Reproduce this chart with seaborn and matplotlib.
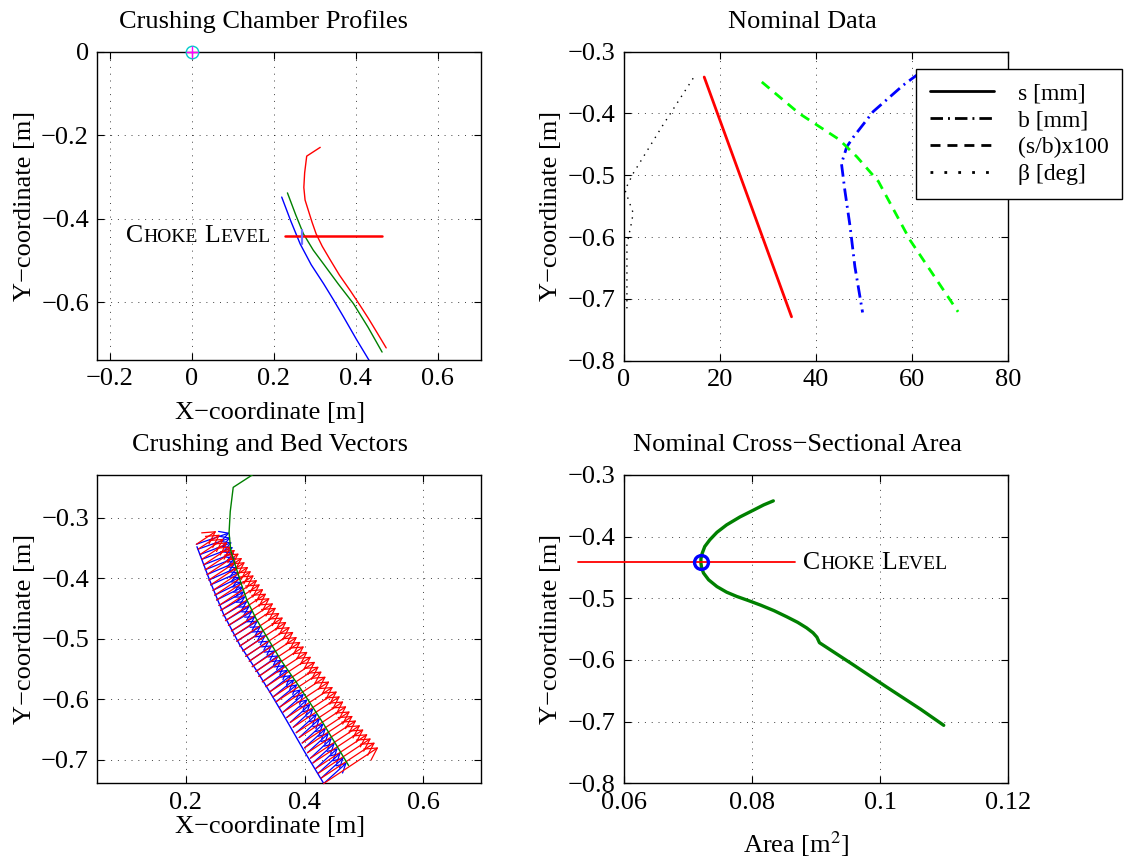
import numpy as np
import matplotlib
matplotlib.use("Agg")
import matplotlib.pyplot as plt
import matplotlib.transforms as mtransforms
from matplotlib.lines import Line2D
from matplotlib.ticker import FuncFormatter
import seaborn as sns

# ---------------- data ----------------
# Crushing chamber profiles (x, y in metres)
mantle_x = [0.313, 0.280, 0.275, 0.273, 0.276, 0.284, 0.293, 0.303, 0.318,
            0.336, 0.360, 0.387, 0.410, 0.431, 0.452, 0.474]
mantle_y = [-0.229, -0.250, -0.290, -0.325, -0.355, -0.380, -0.408, -0.436,
            -0.466, -0.496, -0.535, -0.573, -0.607, -0.639, -0.673, -0.709]
mid_x = [0.233, 0.253, 0.272, 0.296, 0.321, 0.357, 0.394, 0.430, 0.464]
mid_y = [-0.338, -0.390, -0.436, -0.475, -0.508, -0.556, -0.603, -0.660, -0.719]
concave_x = [0.219, 0.241, 0.264, 0.291, 0.321, 0.346, 0.370, 0.401, 0.433]
concave_y = [-0.348, -0.405, -0.460, -0.510, -0.555, -0.595, -0.635, -0.688, -0.740]

choke_level = -0.441
choke_x_top = [0.226, 0.464]
choke_tick_x = [0.269, 0.269]
choke_tick_y = [-0.428, -0.460]
origin_x = [0.0]
origin_y = [0.0]

# Nominal data along the chamber height
s_mm = [16.7, 25.8, 34.9]
s_y = [-0.341, -0.535, -0.729]
b_mm = [61.5, 58.2, 51.9, 47.8, 46.4, 46.0, 45.3, 46.0, 47.1, 48.1, 49.7]
b_y = [-0.335, -0.354, -0.397, -0.438, -0.454, -0.464, -0.481, -0.524,
       -0.583, -0.648, -0.722]
sb_ratio = [28.7, 36.5, 44.8, 48.5, 53.0, 59.6, 69.6]
sb_y = [-0.349, -0.400, -0.442, -0.470, -0.510, -0.605, -0.721]
beta_deg = [14.4, 8.0, 1.9, 0.2, 1.9, 1.6, 0.6, 0.6]
beta_y = [-0.343, -0.420, -0.497, -0.524, -0.561, -0.575, -0.612, -0.722]
legend_labels = ["s [mm]", "b [mm]", "(s/b)x100", "\u03b2 [deg]"]

# Crushing (red) and bed (blue) vectors, tails on the concave profile
vec_tail_x = [0.218, 0.221, 0.224, 0.227, 0.230, 0.233, 0.236, 0.239, 0.242,
              0.246, 0.249, 0.252, 0.256, 0.259, 0.263, 0.267, 0.272, 0.277,
              0.281, 0.286, 0.291, 0.296, 0.301, 0.307, 0.312, 0.318, 0.323,
              0.329, 0.335, 0.341, 0.347, 0.352, 0.358, 0.364, 0.370, 0.376,
              0.381, 0.386, 0.391, 0.396, 0.400, 0.405, 0.410, 0.414, 0.419,
              0.423, 0.428, 0.432]
vec_tail_y = [-0.344, -0.352, -0.361, -0.369, -0.378, -0.386, -0.394, -0.403,
              -0.411, -0.420, -0.428, -0.436, -0.445, -0.453, -0.462, -0.470,
              -0.478, -0.487, -0.495, -0.504, -0.512, -0.520, -0.529, -0.537,
              -0.546, -0.554, -0.562, -0.571, -0.579, -0.588, -0.596, -0.604,
              -0.613, -0.621, -0.630, -0.638, -0.646, -0.655, -0.663, -0.672,
              -0.680, -0.688, -0.697, -0.705, -0.714, -0.722, -0.730, -0.739]
bed_head_x = [0.274, 0.276, 0.278, 0.280, 0.282, 0.284, 0.286, 0.288, 0.290,
              0.292, 0.295, 0.297, 0.299, 0.301, 0.304, 0.308, 0.313, 0.318,
              0.322, 0.327, 0.331, 0.335, 0.341, 0.346, 0.351, 0.357, 0.362,
              0.367, 0.372, 0.378, 0.383, 0.388, 0.394, 0.399, 0.405, 0.410,
              0.415, 0.421, 0.426, 0.432, 0.436, 0.441, 0.446, 0.451, 0.456,
              0.461, 0.466, 0.471]
bed_head_y = [-0.325, -0.333, -0.341, -0.349, -0.358, -0.366, -0.373, -0.382,
              -0.390, -0.398, -0.406, -0.414, -0.422, -0.430, -0.438, -0.446,
              -0.454, -0.4625, -0.470, -0.479, -0.4865, -0.494, -0.503, -0.5105,
              -0.519, -0.527, -0.5345, -0.543, -0.551, -0.5595, -0.567, -0.575,
              -0.5835, -0.591, -0.600, -0.6075, -0.615, -0.624, -0.6315, -0.640,
              -0.648, -0.6555, -0.664, -0.672, -0.6805, -0.688, -0.696, -0.7045]
crush_len = [0.040, 0.044, 0.048, 0.052, 0.056, 0.060, 0.064, 0.067, 0.069,
             0.071, 0.073, 0.075, 0.077, 0.079, 0.081, 0.082, 0.083, 0.084,
             0.085, 0.086, 0.087, 0.088, 0.089, 0.089, 0.090, 0.090, 0.091,
             0.091, 0.091, 0.092, 0.092, 0.092, 0.093, 0.093, 0.093, 0.094,
             0.094, 0.095, 0.095, 0.096, 0.097, 0.098, 0.100, 0.102, 0.104,
             0.106, 0.108, 0.110]
crush_angle_deg = 33.0

# Nominal cross-sectional area
area_m2 = [0.0833, 0.0818, 0.0802, 0.0781, 0.0760, 0.0745, 0.0734, 0.0726,
           0.0722, 0.0720, 0.0720, 0.0721, 0.0724, 0.0732, 0.0745, 0.0760,
           0.0776, 0.0795, 0.0813, 0.0834, 0.0854, 0.0871, 0.0885, 0.0895,
           0.0901, 0.0905, 0.0958, 0.1010, 0.1063, 0.1099]
area_y = [-0.342, -0.3485, -0.357, -0.368, -0.381, -0.393, -0.405, -0.416,
          -0.427, -0.436, -0.443, -0.450, -0.459, -0.470, -0.481, -0.490,
          -0.497, -0.504, -0.511, -0.520, -0.530, -0.539, -0.548, -0.556,
          -0.563, -0.572, -0.608, -0.644, -0.680, -0.706]
choke_area = 0.0720
choke_x_area = [0.0528, 0.0867]

# ---------------- style ----------------
sns.set_theme(style="ticks")
plt.rcParams["font.family"] = ["Liberation Serif", "DejaVu Serif"]
plt.rcParams["mathtext.fontset"] = "stix"
plt.rcParams["axes.unicode_minus"] = True
for key in ("text.color", "axes.labelcolor", "xtick.color", "ytick.color",
            "axes.edgecolor"):
    plt.rcParams[key] = "black"

FS = 19
BIG, SMALL = 18.5, 14
RED, GREEN, BLUE = "#ff0000", "#008000", "#0000ff"
LIME = "#00ff00"
DASH = (0, (3.6, 2.5))
DASHDOT = (0, (4.5, 1.8, 0.7, 1.8))
DOT = (0, (1, 4))

fig = plt.figure(figsize=(11.24, 8.6), dpi=100)
fig.patch.set_facecolor("white")

ax_tl = fig.add_axes([0.0866, 0.5814, 0.3414, 0.3585])
ax_tr = fig.add_axes([0.5552, 0.5806, 0.3416, 0.3593])
ax_bl = fig.add_axes([0.0866, 0.0892, 0.3414, 0.3585])
ax_br = fig.add_axes([0.5552, 0.0892, 0.3420, 0.3585])

fmt = FuncFormatter(lambda v, p: f"{v:g}".replace("-", "\u2212"))


def style_axes(ax, xticks, yticks, xlim, ylim):
    ax.set_facecolor("white")
    ax.set_xlim(*xlim)
    ax.set_ylim(*ylim)
    ax.set_xticks(xticks)
    ax.set_yticks(yticks)
    ax.xaxis.set_major_formatter(fmt)
    ax.yaxis.set_major_formatter(fmt)
    ax.tick_params(direction="in", top=True, right=True, length=5, width=0.8,
                   labelsize=FS, pad=6, colors="black")
    for sp in ax.spines.values():
        sp.set_visible(True)
        sp.set_color("black")
        sp.set_linewidth(1.0)
    ax.grid(True, linestyle=(0, (1, 6)), color="black", linewidth=0.7, alpha=0.75)
    ax.set_axisbelow(True)


def labels(ax, title, title_x, xlabel=None, xlabel_x=0.5, xpad=2):
    ax.set_title(title, fontsize=FS, pad=17, x=title_x, color="black")
    if xlabel is not None:
        ax.set_xlabel(xlabel, fontsize=FS, labelpad=xpad)
        ax.xaxis.label.set_x(xlabel_x)
    ax.set_ylabel("Y\u2212coordinate [m]", fontsize=FS, labelpad=4)


def small_caps(ax, x, y, ha, dy_px):
    r = fig.canvas.get_renderer()
    parts = [("C", BIG), ("HOKE", SMALL), ("L", BIG), ("EVEL", SMALL)]
    gaps = [0, 0, 0.25 * BIG * fig.dpi / 72.0, 0]
    arts = [ax.text(x, y, s, fontsize=fs, va="baseline", ha="left", color="black",
                    clip_on=False) for s, fs in parts]
    widths = [a.get_window_extent(r).width for a in arts]
    total = sum(widths) + sum(gaps)
    off = -total if ha == "right" else 0.0
    for a, w, g in zip(arts, widths, gaps):
        off += g
        a.set_transform(mtransforms.offset_copy(ax.transData, fig=fig, x=off,
                                                y=dy_px, units="dots"))
        off += w


def line(ax, x, y, color, lw, ls="-", z=2, clip=True):
    sns.lineplot(x=x, y=y, ax=ax, sort=False, estimator=None, color=color,
                 linewidth=lw, linestyle=ls, zorder=z, clip_on=clip)


# ---- top left: crushing chamber profiles ----
style_axes(ax_tl, [-0.2, 0, 0.2, 0.4, 0.6], [-0.6, -0.4, -0.2, 0],
           (-0.231, 0.7056), (-0.738, 0.0))
line(ax_tl, mantle_x, mantle_y, RED, 1.0)
line(ax_tl, mid_x, mid_y, GREEN, 1.0)
line(ax_tl, concave_x, concave_y, BLUE, 1.0)
line(ax_tl, choke_x_top, [choke_level, choke_level], RED, 1.8, z=3)
line(ax_tl, choke_tick_x, choke_tick_y, "#6f6fff", 1.6, z=3)
ax_tl.plot(origin_x, origin_y, "o", ms=9, mfc="none", mec="#00cccc", mew=1.0,
           clip_on=False, zorder=5)
ax_tl.plot(origin_x, origin_y, "+", ms=9, mec="#ff00ff", mew=1.0,
           clip_on=False, zorder=6)
labels(ax_tl, "Crushing Chamber Profiles", 0.434,
       "X\u2212coordinate [m]", 0.45, xpad=8.5)

# ---- top right: nominal data ----
style_axes(ax_tr, [0, 20, 40, 60, 80], [-0.8, -0.7, -0.6, -0.5, -0.4, -0.3],
           (0, 80), (-0.8, -0.3))
line(ax_tr, s_mm, s_y, RED, 2.0)
line(ax_tr, b_mm, b_y, BLUE, 2.0, ls=DASHDOT)
line(ax_tr, sb_ratio, sb_y, LIME, 2.0, ls=DASH)
line(ax_tr, beta_deg, beta_y, "black", 1.0, ls=DOT)
labels(ax_tr, "Nominal Data", 0.465)
handles = [
    Line2D([], [], color="black", lw=2.0, linestyle="-"),
    Line2D([], [], color="black", lw=2.0, linestyle=DASHDOT),
    Line2D([], [], color="black", lw=2.0, linestyle=DASH),
    Line2D([], [], color="black", lw=2.0, linestyle=DOT),
]
leg = ax_tr.legend(handles, legend_labels, loc="upper left",
                   bbox_to_anchor=(916 / 1124, 1 - 69 / 860),
                   bbox_transform=fig.transFigure, fontsize=17, frameon=True,
                   fancybox=False, shadow=False, framealpha=1.0,
                   handlelength=2.7, handletextpad=1.0, labelspacing=0.22,
                   borderpad=0.6, borderaxespad=0.0)
leg.get_frame().set_edgecolor("black")
leg.get_frame().set_linewidth(1.0)
leg.set_zorder(10)

# ---- bottom left: crushing and bed vectors ----
style_axes(ax_bl, [0.2, 0.4, 0.6], [-0.7, -0.6, -0.5, -0.4, -0.3],
           (0.0514, 0.697), (-0.7385, -0.2296))
line(ax_bl, concave_x, concave_y, BLUE, 1.0, z=2)
for tx, ty, hx, hy in zip(vec_tail_x, vec_tail_y, bed_head_x, bed_head_y):
    ax_bl.annotate("", xy=(hx, hy), xytext=(tx, ty),
                   arrowprops=dict(arrowstyle="->,head_length=0.45,head_width=0.25",
                                   color=BLUE, lw=0.9, shrinkA=0, shrinkB=0,
                                   mutation_scale=14), zorder=3)
ang = np.deg2rad(crush_angle_deg)
for tx, ty, L in zip(vec_tail_x, vec_tail_y, crush_len):
    ax_bl.annotate("", xy=(tx + L * np.cos(ang), ty + L * np.sin(ang)),
                   xytext=(tx, ty),
                   arrowprops=dict(arrowstyle="->,head_length=0.45,head_width=0.25",
                                   color=RED, lw=0.9, shrinkA=0, shrinkB=0,
                                   mutation_scale=19), zorder=4)
line(ax_bl, mantle_x, mantle_y, GREEN, 1.0, z=5)
labels(ax_bl, "Crushing and Bed Vectors", 0.45,
       "X\u2212coordinate [m]", 0.45, xpad=2)

# ---- bottom right: nominal cross-sectional area ----
style_axes(ax_br, [0.06, 0.08, 0.1, 0.12], [-0.8, -0.7, -0.6, -0.5, -0.4, -0.3],
           (0.06, 0.12), (-0.8, -0.3))
line(ax_br, area_m2, area_y, GREEN, 2.4)
line(ax_br, choke_x_area, [choke_level, choke_level], RED, 1.3, z=3, clip=False)
ax_br.plot([choke_area], [choke_level], "o", ms=10, mfc="none", mec=BLUE,
           mew=2.4, zorder=6)
labels(ax_br, "Nominal Cross\u2212Sectional Area", 0.45,
       "Area [m$^2$]", 0.447, xpad=11)

small_caps(ax_tl, 0.191, choke_level, "right", -5.7)
small_caps(ax_br, 0.088, choke_level, "left", -6.6)

fig.savefig("out.png", dpi=100, facecolor="white")
